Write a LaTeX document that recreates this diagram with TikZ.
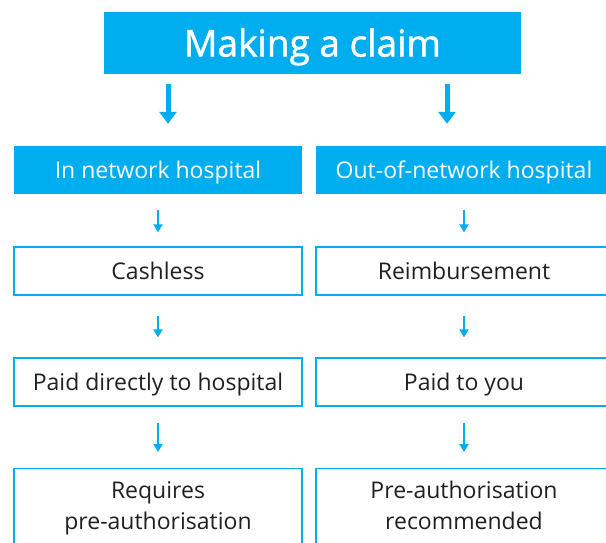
\documentclass[tikz,border=0pt]{standalone}
\usepackage{fontspec}
\setmainfont{Open Sans}
\usetikzlibrary{arrows.meta}
\definecolor{claimblue}{HTML}{00AEEF}
\definecolor{claimtext}{HTML}{231F20}

\begin{document}
\begin{tikzpicture}[x=1pt, y=-1pt,
    hd/.style={rectangle, fill=claimblue, text=white, inner sep=0pt, minimum height=48pt, text depth=0pt, font=\fontsize{23}{27}\selectfont},
    bx/.style={draw=claimblue, line width=1.3pt, rectangle, text=claimtext, inner sep=0pt, minimum height=48pt, text depth=0pt, font=\fontsize{23}{31}\selectfont},
    bigarr/.style={draw=claimblue, line width=5pt, -{Triangle[width=17pt,length=12pt]}, shorten <=10pt, shorten >=22pt},
    arr/.style={draw=claimblue, line width=2.5pt, -{Triangle[width=9pt,length=8pt]}}]
    \useasboundingbox (0,0) rectangle (606,542);
    \clip (0,0) rectangle (606,542);

    \node[hd, minimum width=417pt, minimum height=62pt, text height=27pt, font=\fontsize{37}{42}\selectfont\addfontfeatures{FakeBold=1.2}] (claim) at (312.5,43) {Making a claim};

    \node[hd, minimum width=288pt] (inhead) at (158,170) {In network hospital};
    \node[hd, minimum width=296pt] (outhead) at (464,170) {Out-of-network hospital};

    \node[bx, minimum width=288pt] (cash) at (158,271) {Cashless};
    \node[bx, minimum width=296pt] (reimb) at (464,271) {Reimbursement};

    \node[bx, minimum width=288pt] (paidhosp) at (158,382) {Paid directly to hospital};
    \node[bx, minimum width=296pt] (paidyou) at (464,382) {Paid to you};

    \node[bx, anchor=north, minimum width=288pt, inner ysep=12.5pt, text depth=30pt, align=center] (preauth) at (158,468) {Requires\\pre-authorisation};
    \node[bx, anchor=north, minimum width=296pt, inner ysep=12.5pt, text depth=30pt, align=center] (preauthrec) at (464,468) {Pre-authorisation\\recommended};

    % big arrows out of the title
    \coordinate (lsplit) at ([xshift=-144.5pt]claim.south);
    \coordinate (rsplit) at ([xshift=134.5pt]claim.south);
    \draw[bigarr] (lsplit) -- (lsplit |- inhead.north);
    \draw[bigarr] (rsplit) -- (rsplit |- outhead.north);

    \draw[arr, shorten <=16pt, shorten >=14pt] (inhead) -- (cash);
    \draw[arr, shorten <=16pt, shorten >=14pt] (outhead.south -| reimb) -- (reimb);
    \draw[arr, shorten <=20pt, shorten >=20pt] (cash) -- (paidhosp);
    \draw[arr, shorten <=20pt, shorten >=20pt] (reimb) -- (paidyou);
    \draw[arr, shorten <=16pt, shorten >=16pt] (paidhosp) -- (preauth);
    \draw[arr, shorten <=16pt, shorten >=16pt] (paidyou) -- (preauthrec);
\end{tikzpicture}
\end{document}
